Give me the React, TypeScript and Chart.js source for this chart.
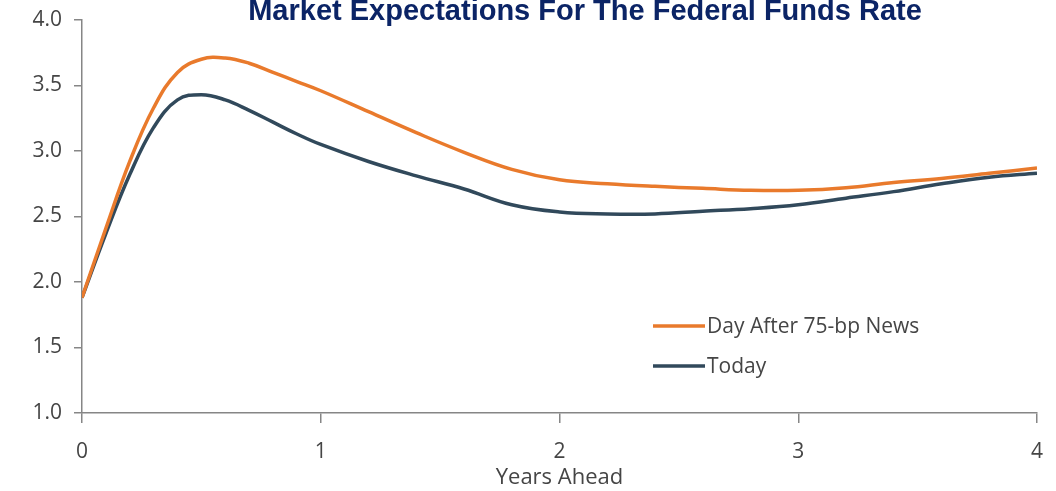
import React, { useEffect, useRef } from 'react';
import { Chart, registerables } from 'chart.js';

Chart.register(...registerables);

const CHART_TITLE = 'Market Expectations For The Federal Funds Rate';
const X_AXIS_TITLE = 'Years Ahead';
const SERIES_LABELS = ['Day After 75-bp News', 'Today'];

const YEARS = [0, 0.1, 0.2, 0.3, 0.4, 0.5, 0.6, 0.7, 0.8, 0.9, 1.0, 1.2, 1.4, 1.6, 1.8, 2.0, 2.2, 2.4, 2.6, 2.8, 3.0, 3.2, 3.4, 3.6, 3.8, 4.0];
const DAY_AFTER = [1.88, 2.41, 2.92, 3.33, 3.60, 3.70, 3.71, 3.67, 3.60, 3.53, 3.46, 3.30, 3.14, 2.99, 2.86, 2.78, 2.75, 2.73, 2.715, 2.70, 2.70, 2.72, 2.76, 2.79, 2.83, 2.87];
const TODAY = [1.88, 2.37, 2.82, 3.18, 3.39, 3.43, 3.39, 3.31, 3.22, 3.13, 3.05, 2.92, 2.81, 2.71, 2.59, 2.535, 2.52, 2.52, 2.54, 2.56, 2.59, 2.64, 2.69, 2.75, 2.80, 2.83];

const X_TICKS = [0, 1, 2, 3, 4];
const Y_TICKS = [1.0, 1.5, 2.0, 2.5, 3.0, 3.5, 4.0];

const ORANGE = '#E97A2C';
const SLATE = '#31495B';
const AXIS = '#868686';
const TEXT = '#454545';
const FONT = '"Open Sans", "Liberation Sans", sans-serif';

const titlePlugin = {
  id: 'topTitle',
  afterDraw(chart: any) {
    const ctx = chart.ctx;
    ctx.save();
    ctx.font = 'bold 29px "Liberation Sans", Arial, sans-serif';
    ctx.fillStyle = '#0B2466';
    ctx.textAlign = 'center';
    ctx.textBaseline = 'alphabetic';
    ctx.fillText(CHART_TITLE, 585, 20);
    ctx.restore();
  },
};

const legendPlugin = {
  id: 'insideLegend',
  afterDatasetsDraw(chart: any) {
    const ctx = chart.ctx;
    chart.data.datasets.forEach((ds: any, i: number) => {
      const y = 326 + i * 40;
      ctx.save();
      ctx.strokeStyle = ds.borderColor;
      ctx.lineWidth = 3.5;
      ctx.beginPath();
      ctx.moveTo(653, y);
      ctx.lineTo(705, y);
      ctx.stroke();
      ctx.font = `21px ${FONT}`;
      ctx.fillStyle = TEXT;
      ctx.textAlign = 'left';
      ctx.textBaseline = 'middle';
      ctx.fillText(ds.label, 707, y + 1);
      ctx.restore();
    });
  },
};

export default function App() {
  const ref = useRef<HTMLCanvasElement>(null);

  useEffect(() => {
    if (!ref.current) return;
    const toPoints = (vals: number[]) => YEARS.map((x, i) => ({ x, y: vals[i] }));
    const chart = new Chart(ref.current, {
      type: 'line',
      data: {
        datasets: [
          {
            label: SERIES_LABELS[0],
            data: toPoints(DAY_AFTER),
            borderColor: ORANGE,
            borderWidth: 3.5,
            pointRadius: 0,
            tension: 0.4,
            fill: false,
          },
          {
            label: SERIES_LABELS[1],
            data: toPoints(TODAY),
            borderColor: SLATE,
            borderWidth: 3.5,
            pointRadius: 0,
            tension: 0.4,
            fill: false,
          },
        ],
      },
      options: {
        responsive: false,
        animation: false,
        layout: { padding: { top: 20, right: 19, left: 0, bottom: 0 } },
        plugins: {
          legend: { display: false },
          title: { display: false },
          tooltip: { enabled: false },
        },
        scales: {
          x: {
            type: 'linear',
            min: 0,
            max: 4,
            afterBuildTicks: (scale: any) => {
              scale.ticks = X_TICKS.map((v) => ({ value: v }));
            },
            afterFit: (scale: any) => {
              scale.height = 78;
              scale.paddingLeft = 0;
              scale.paddingRight = 0;
            },
            ticks: {
              color: TEXT,
              font: { family: FONT, size: 21 },
              padding: 16,
              maxRotation: 0,
              callback: (v: any) => String(v),
            },
            grid: {
              drawOnChartArea: false,
              drawTicks: true,
              tickLength: 10,
              color: AXIS,
              lineWidth: 1.5,
            },
            border: { display: true, color: AXIS, width: 1.5 },
            title: {
              display: true,
              text: X_AXIS_TITLE,
              color: TEXT,
              font: { family: FONT, size: 22 },
              padding: { top: 0, bottom: 0 },
            },
          },
          y: {
            type: 'linear',
            min: 1,
            max: 4,
            afterBuildTicks: (scale: any) => {
              scale.ticks = Y_TICKS.map((v) => ({ value: v }));
            },
            afterFit: (scale: any) => {
              scale.width = 82;
              scale.paddingTop = 0;
              scale.paddingBottom = 0;
            },
            ticks: {
              color: TEXT,
              font: { family: FONT, size: 21 },
              padding: 12,
              callback: (v: any) => Number(v).toFixed(1),
            },
            grid: {
              drawOnChartArea: false,
              drawTicks: true,
              tickLength: 8,
              color: AXIS,
              lineWidth: 1.5,
            },
            border: { display: true, color: AXIS, width: 1.5 },
          },
        },
      },
      plugins: [titlePlugin, legendPlugin],
    } as any);
    return () => chart.destroy();
  }, []);

  return (
    <div style={{ position: 'fixed', left: 0, top: 0, width: 1056, height: 491, background: '#fff' }}>
      <canvas ref={ref} width={1056} height={491} />
    </div>
  );
}
